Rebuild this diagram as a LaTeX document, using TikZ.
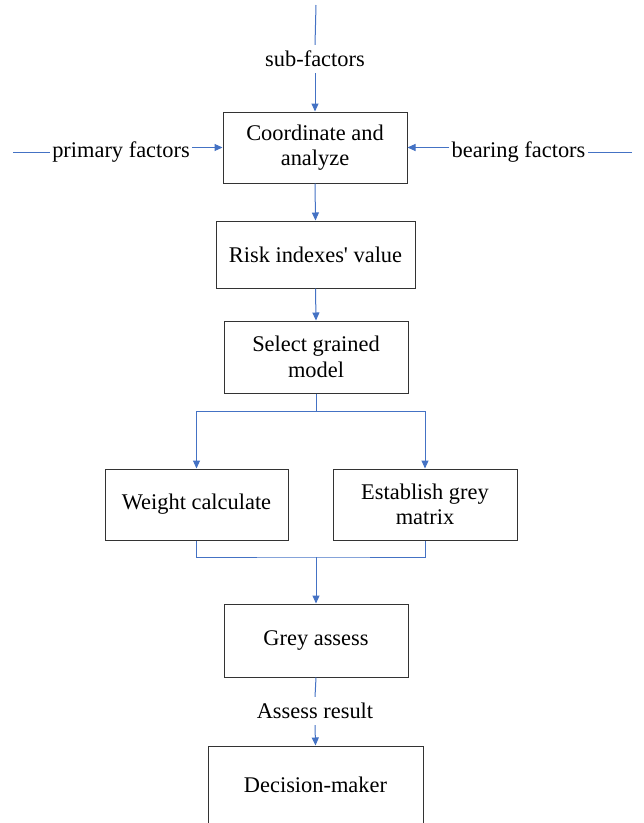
\documentclass[tikz,border=0pt]{standalone}
\usepackage{fontspec}
\setmainfont{Liberation Serif}
\usetikzlibrary{arrows.meta}
\definecolor{linkblue}{HTML}{4472C4}

\begin{document}
\begin{tikzpicture}[x=1pt,y=-1pt,
	box/.style={draw=black!80, line width=1pt, align=center, inner sep=0pt},
	lbl/.style={inner xsep=2pt, inner ysep=6pt},
	link/.style={draw=linkblue, line width=1pt},
	arr/.style={link, -{Triangle[length=8pt,width=7pt]}},
	font=\fontsize{22.4}{25.5}\selectfont]

	\useasboundingbox (0,0) rectangle (644,823);

	\node[box, minimum width=184, minimum height=71] (coord) at (315,147.5) {Coordinate and\\analyze};
	\node[box, minimum width=199, minimum height=67] (risk) at (315.5,254.5) {Risk indexes\textquotesingle\ value};
	\node[box, minimum width=184, minimum height=72] (select) at (316,357) {Select grained\\model};
	\node[box, minimum width=183, minimum height=71] (weight) at (196.5,504.5) {Weight calculate};
	\node[box, minimum width=184, minimum height=71] (matrix) at (425,504.5) {Establish grey\\matrix};
	\node[box, minimum width=184, minimum height=73] (assess) at (316,640.5) {Grey assess};
	\node[box, minimum width=215, minimum height=78] (decision) at (315.5,785) {Decision-maker};

	\node[lbl] (sub) at (315,59) {sub-factors};
	\node[lbl] (prim) at (121,152) {primary factors};
	\node[lbl] (bear) at (518.5,152) {bearing factors};
	\node[lbl] (result) at (315,711) {Assess result};

	\coordinate (top) at (316,5);
	\coordinate (left) at (13,152);
	\coordinate (right) at (632,152);
	\coordinate (split) at (316,411);
	\coordinate (merge) at (316,557);

	\path[link] (top) -- (sub.north);
	\path[link] (left) -- (prim.west);
	\path[link] (right) -- (bear.east);
	\path[arr] (prim.east |- coord.west) -- (coord.west);
	\path[arr] (bear.west |- coord.east) -- (coord.east);

	\foreach \i / \j in {
	sub/coord,
	coord/risk,
	risk/select,
	merge/assess,
	result/decision}
	{
		\path[arr] (\i.south) -- (\j.north);
	};
	\path[link] (select.south) -- (split);
	\path[arr] (split) -| (weight.north);
	\path[arr] (split) -| (matrix.north);
	\path[link] (weight.south) |- (merge) -| (matrix.south);
	\path[link] (assess.south) -- (result.north);
\end{tikzpicture}
\end{document}
